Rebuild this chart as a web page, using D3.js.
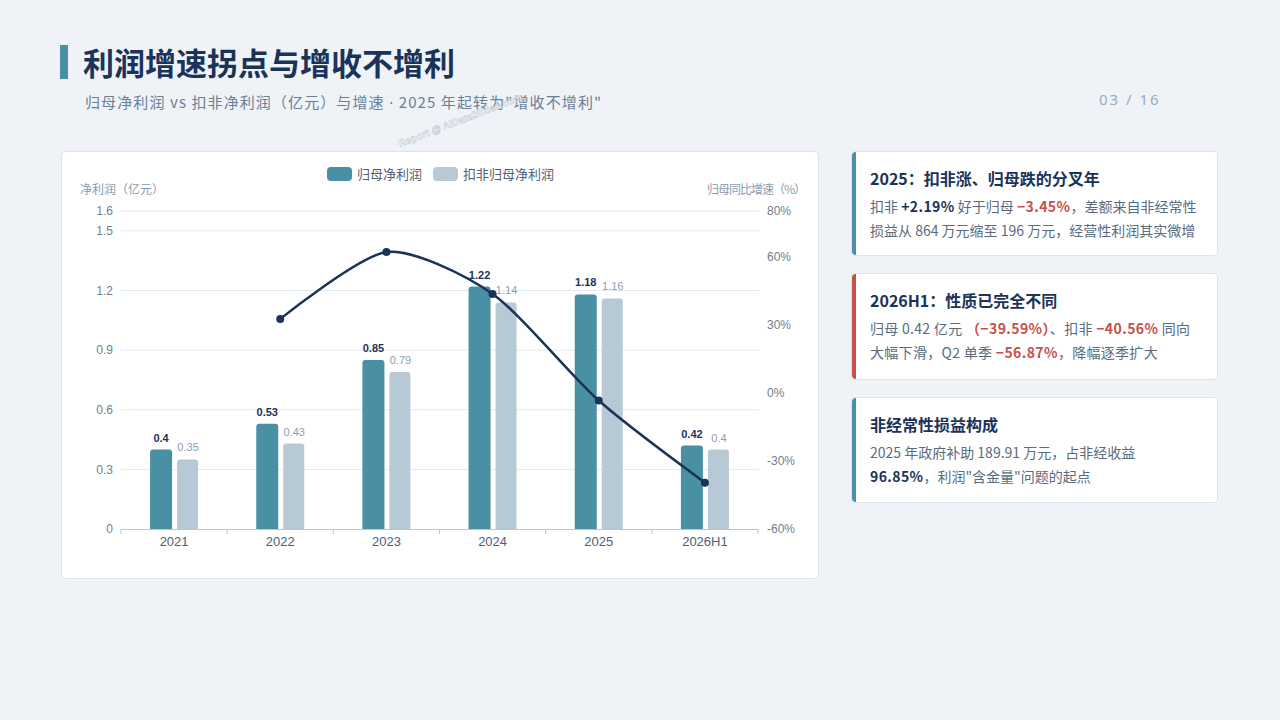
<!DOCTYPE html>
<html><head><meta charset="utf-8">
<script src="https://cdn.jsdelivr.net/npm/d3@7/dist/d3.min.js"></script>
<style>
html,body{margin:0;padding:0;}
body{width:1280px;height:720px;background:#eff3f8;position:relative;overflow:hidden;font-family:"Noto Sans CJK SC","Noto Sans",sans-serif;}
.accent{position:absolute;left:60px;top:45px;width:8px;height:34px;background:#4a90a4;}
.title{position:absolute;left:83px;top:40px;font-size:31px;font-weight:700;color:#1a3358;line-height:44px;}
.sub{position:absolute;left:85px;top:91px;font-size:15px;color:#6b7f95;line-height:22px;letter-spacing:1.1px;}
.sub .dot{font-family:"Noto Sans",sans-serif;}
.page{position:absolute;left:1099px;top:89px;font-size:15px;color:#9aabbd;letter-spacing:2px;font-family:"Noto Sans",sans-serif;}
.chartcard{position:absolute;left:61px;top:151px;width:756px;height:426px;background:#fff;border:1px solid #dde4ec;border-radius:4px;}
.card{position:absolute;left:851px;width:367px;background:#fff;border:1px solid #dde4ec;border-radius:4px;box-sizing:border-box;padding:13px 0 0 18px;}
.card .bar{position:absolute;left:0;top:0;bottom:0;width:4px;border-radius:4px 0 0 4px;}
.card h3{margin:0;font-size:16px;font-weight:700;color:#1a3358;line-height:26px;}
.card p{margin:3px 0 0 0;font-size:14px;color:#5a6b7e;line-height:24px;white-space:nowrap;}
.card b{color:#1a3358;font-weight:700;letter-spacing:0.4px;}
.card .r{color:#c8504a;font-weight:700;letter-spacing:0.4px;}
.card .w{letter-spacing:0.3px;}
svg{position:absolute;left:0;top:0;}
</style></head>
<body>
<div class="accent"></div>
<div class="title">利润增速拐点与增收不增利</div>
<div class="sub">归母净利润 vs 扣非净利润（亿元）与增速 <span class="dot">·</span> 2025 年起转为"增收不增利"</div>
<div class="page">03 / 16</div>
<div class="chartcard"></div>
<div class="card" style="top:151px;height:105px;"><div class="bar" style="background:#4a90a4"></div>
<h3>2025：扣非涨、归母跌的分叉年</h3>
<p>扣非 <b>+2.19%</b> 好于归母 <span class="r">−3.45%</span>，差额来自非经常性<br>损益从 864 万元缩至 196 万元，经营性利润其实微增</p></div>
<div class="card" style="top:273px;height:107px;"><div class="bar" style="background:#c8504a"></div>
<h3>2026H1：性质已完全不同</h3>
<p class="w">归母 0.42 亿元 <span class="r">（−39.59%）</span>、扣非 <span class="r">−40.56%</span> 同向<br>大幅下滑，Q2 单季 <span class="r">−56.87%</span>，降幅逐季扩大</p></div>
<div class="card" style="top:397px;height:106px;"><div class="bar" style="background:#4a90a4"></div>
<h3>非经常性损益构成</h3>
<p>2025 年政府补助 189.91 万元，占非经收益<br><b>96.85%</b>，利润"含金量"问题的起点</p></div>
<svg id="chart" width="1280" height="720"></svg>
<script>
const categories = ["2021","2022","2023","2024","2025","2026H1"];
const netProfit = [0.40,0.53,0.85,1.22,1.18,0.42];
const deductedProfit = [0.35,0.43,0.79,1.14,1.16,0.40];
const growth = [null,32.5,61.9,43.5,-3.45,-39.59];
const leftTicks = [0,0.3,0.6,0.9,1.2,1.5,1.6];
const rightTicks = [-60,-30,0,30,60,80];
const seriesNames = ["归母净利润","扣非归母净利润"];

const svg = d3.select("#chart");
const L=121,R=758,T=211,B=529;
const x = d3.scaleBand().domain(categories).range([L,R]).padding(0);
const yL = d3.scaleLinear().domain([0,1.6]).range([B,T]);
const yR = d3.scaleLinear().domain([-60,80]).range([B,T]);
const dark="#4a90a4", light="#b6c9d5", navy="#1a3358";
const axisFont='"Liberation Sans",Arial,sans-serif';
const cjk='"Noto Sans CJK SC",sans-serif';

// grid
svg.append("g").selectAll("line").data(leftTicks.filter(d=>d>0)).join("line")
  .attr("x1",L).attr("x2",R+1).attr("y1",d=>yL(d)).attr("y2",d=>yL(d))
  .attr("stroke","#e3e9f0").attr("stroke-width",1);

// left axis
const gl = svg.append("g").attr("transform",`translate(${L},0)`)
  .call(d3.axisLeft(yL).tickValues(leftTicks).tickSize(0).tickPadding(8).tickFormat(d=>d3.format("")(d)));
gl.select(".domain").remove();
gl.selectAll("text").attr("fill","#6e7f93").style("font-size","12px").style("font-family",axisFont);

// right axis
const gr = svg.append("g").attr("transform",`translate(${R},0)`)
  .call(d3.axisRight(yR).tickValues(rightTicks).tickSize(0).tickPadding(9).tickFormat(d=>d+"%"));
gr.select(".domain").remove();
gr.selectAll("text").attr("fill","#6e7f93").style("font-size","12px").style("font-family",axisFont);

// bottom axis
const gb = svg.append("g").attr("transform",`translate(0,${B})`)
  .call(d3.axisBottom(x).tickSize(0).tickPadding(8));
gb.select(".domain").attr("stroke","#b8c6d4");
gb.selectAll("text").attr("fill","#4f6074").style("font-size","13px").style("font-family",axisFont);
gb.append("g").selectAll("line").data(d3.range(categories.length+1)).join("line")
  .attr("x1",i=>L+i*x.bandwidth()).attr("x2",i=>L+i*x.bandwidth())
  .attr("y1",0).attr("y2",5).attr("stroke","#b8c6d4");

// axis names
svg.append("text").attr("x",80).attr("y",194).text("净利润（亿元）")
  .attr("fill","#8a9bb0").style("font-size","12px").style("font-family",cjk);
svg.append("text").attr("x",806).attr("y",194).attr("text-anchor","end").text("归母同比增速（%）")
  .attr("fill","#8a9bb0").style("font-size","12px").style("font-family",cjk).attr("textLength",99);

// legend
const lg = svg.append("g");
[[327,dark,seriesNames[0]],[433,light,seriesNames[1]]].forEach(([lx,c,t])=>{
  lg.append("rect").attr("x",lx).attr("y",167).attr("width",25).attr("height",14).attr("rx",4).attr("fill",c);
  lg.append("text").attr("x",lx+30).attr("y",178.5).text(t).attr("fill","#4f6074").style("font-size","13px").style("font-family",cjk);
});

function topRounded(x0,y0,w,h,r){
  r=Math.min(r,h);
  return `M${x0},${y0+h}V${y0+r}Q${x0},${y0} ${x0+r},${y0}H${x0+w-r}Q${x0+w},${y0} ${x0+w},${y0+r}V${y0+h}Z`;
}
const bw=22, gap=4;
const cx = d=>x(d)+x.bandwidth()/2;
svg.append("g").selectAll("path").data(categories).join("path")
  .attr("d",(d,i)=>topRounded(cx(d)-gap/2-bw,yL(netProfit[i]),bw,B-yL(netProfit[i]),3)).attr("fill",dark);
svg.append("g").selectAll("path").data(categories).join("path")
  .attr("d",(d,i)=>topRounded(cx(d)+gap/2+1,yL(deductedProfit[i]),bw-1,B-yL(deductedProfit[i]),3)).attr("fill",light);

svg.append("g").selectAll("text").data(categories).join("text")
  .attr("x",d=>cx(d)-gap/2-bw/2).attr("y",(d,i)=>yL(netProfit[i])-8)
  .attr("text-anchor","middle").text((d,i)=>d3.format("")(netProfit[i]))
  .attr("fill",navy).style("font-weight","700").style("font-size","11px").style("font-family",axisFont);
svg.append("g").selectAll("text").data(categories).join("text")
  .attr("x",d=>cx(d)+gap/2+1+bw/2).attr("y",(d,i)=>yL(deductedProfit[i])-8)
  .attr("text-anchor","middle").text((d,i)=>d3.format("")(deductedProfit[i]))
  .attr("fill","#8c9db1").style("font-size","11px").style("font-family",axisFont);

// growth line
const pts = categories.map((c,i)=>({c,v:growth[i]})).filter(p=>p.v!==null);
svg.append("path").datum(pts)
  .attr("d",d3.line().x(p=>cx(p.c)).y(p=>yR(p.v)).curve(d3.curveCardinal.tension(0.25)))
  .attr("fill","none").attr("stroke",navy).attr("stroke-width",2.5);
svg.append("g").selectAll("circle").data(pts).join("circle")
  .attr("cx",p=>cx(p.c)).attr("cy",p=>yR(p.v)).attr("r",4).attr("fill",navy);

// watermark
svg.append("text").attr("transform","translate(400,147) rotate(-21)")
  .text("Report @ AIDataSlides.com").attr("fill","#ffffff").attr("stroke","#c3cad3").attr("stroke-width",0.6)
  .style("font-size","10px").style("font-family",axisFont).style("font-weight","700").attr("opacity",0.9);
</script>
</body></html>
